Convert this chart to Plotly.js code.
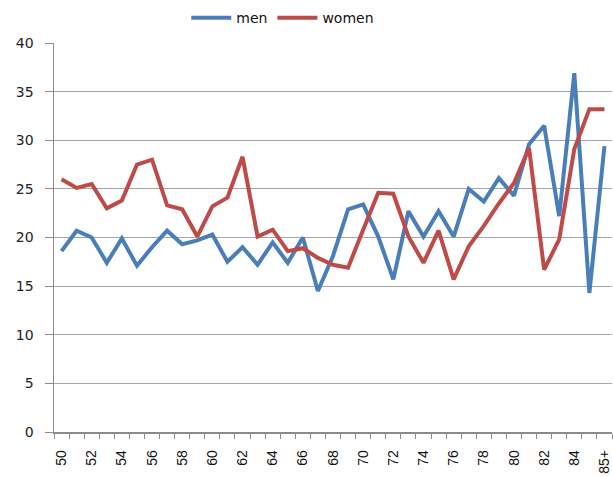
<!DOCTYPE html>
<html>
<head>
<meta charset="utf-8">
<script src="https://cdn.plot.ly/plotly-3.0.1.min.js"></script>
<style>html,body{margin:0;padding:0;background:#fff;}#chart{width:613px;height:477px;}</style>
</head>
<body>
<div id="chart"></div>
<script>
const categories = ["50","51","52","53","54","55","56","57","58","59","60","61","62","63","64","65","66","67","68","69","70","71","72","73","74","75","76","77","78","79","80","81","82","83","84","85","85+"];
const labelEvery = 2;
const men = [18.6,20.7,20.0,17.4,19.9,17.1,19.0,20.7,19.3,19.7,20.3,17.5,19.0,17.2,19.5,17.4,20.0,14.5,18.1,22.9,23.4,20.1,15.7,22.7,20.1,22.7,20.1,25.0,23.7,26.1,24.3,29.6,31.5,22.2,36.9,14.3,29.4];
const women = [26.0,25.1,25.5,23.0,23.8,27.5,28.0,23.3,22.9,20.1,23.2,24.1,28.3,20.1,20.8,18.6,18.9,17.9,17.2,16.9,20.8,24.6,24.5,20.1,17.4,20.7,15.7,19.1,21.2,23.5,25.6,29.2,16.7,19.8,29.1,33.2,33.2];
const yTicks = [0,5,10,15,20,25,30,35,40];

const xIdx = categories.map((c, i) => i);
const tickIdx = xIdx.filter(i => i % labelEvery === 0);
const tickTxt = tickIdx.map(i => categories[i]);

const traces = [
  {x: xIdx, y: men, name: "men", type: "scatter", mode: "lines",
   line: {color: "#4A7EBB", width: 4}},
  {x: xIdx, y: women, name: "women", type: "scatter", mode: "lines",
   line: {color: "#BE4B48", width: 4}}
];

const layout = {
  width: 613, height: 477,
  margin: {l: 54, r: 1, t: 43, b: 45},
  paper_bgcolor: "#fff", plot_bgcolor: "#fff",
  font: {family: "DejaVu Sans, Liberation Sans, sans-serif", color: "#222", size: 13},
  showlegend: true,
  legend: {orientation: "h", x: 0.41, xanchor: "center", y: 1.105, yanchor: "top",
           font: {size: 14, color: "#111"}, itemwidth: 40, tracegroupgap: 0},
  xaxis: {
    type: "linear", range: [-0.5, categories.length - 0.5],
    tickmode: "array", tickvals: tickIdx, ticktext: tickTxt,
    tickangle: -90, ticks: "outside", ticklen: 11, tickcolor: "rgba(0,0,0,0)",
    tickfont: {family: "Liberation Sans, Arial, sans-serif", size: 14, color: "#111"},
    showgrid: false, zeroline: false, automargin: false,
    showline: true, linecolor: "#8c8c8c", linewidth: 1.5,
    minor: {tick0: -0.5, dtick: 1, ticks: "outside", ticklen: 5, tickcolor: "#8c8c8c", tickwidth: 1, showgrid: false}
  },
  yaxis: {
    range: [0, 40], tickmode: "array", tickvals: yTicks,
    ticks: "outside", ticklen: 8, tickcolor: "#8c8c8c", ticklabelstandoff: 8,
    showgrid: true, gridcolor: "#a6a6a6", gridwidth: 1.2,
    zeroline: false, showline: true, linecolor: "#8c8c8c", linewidth: 1.5,
    tickfont: {family: "DejaVu Sans, sans-serif", size: 14, color: "#222"}
  }
};

Plotly.newPlot("chart", traces, layout, {displayModeBar: false, staticPlot: true});
</script>
</body>
</html>
